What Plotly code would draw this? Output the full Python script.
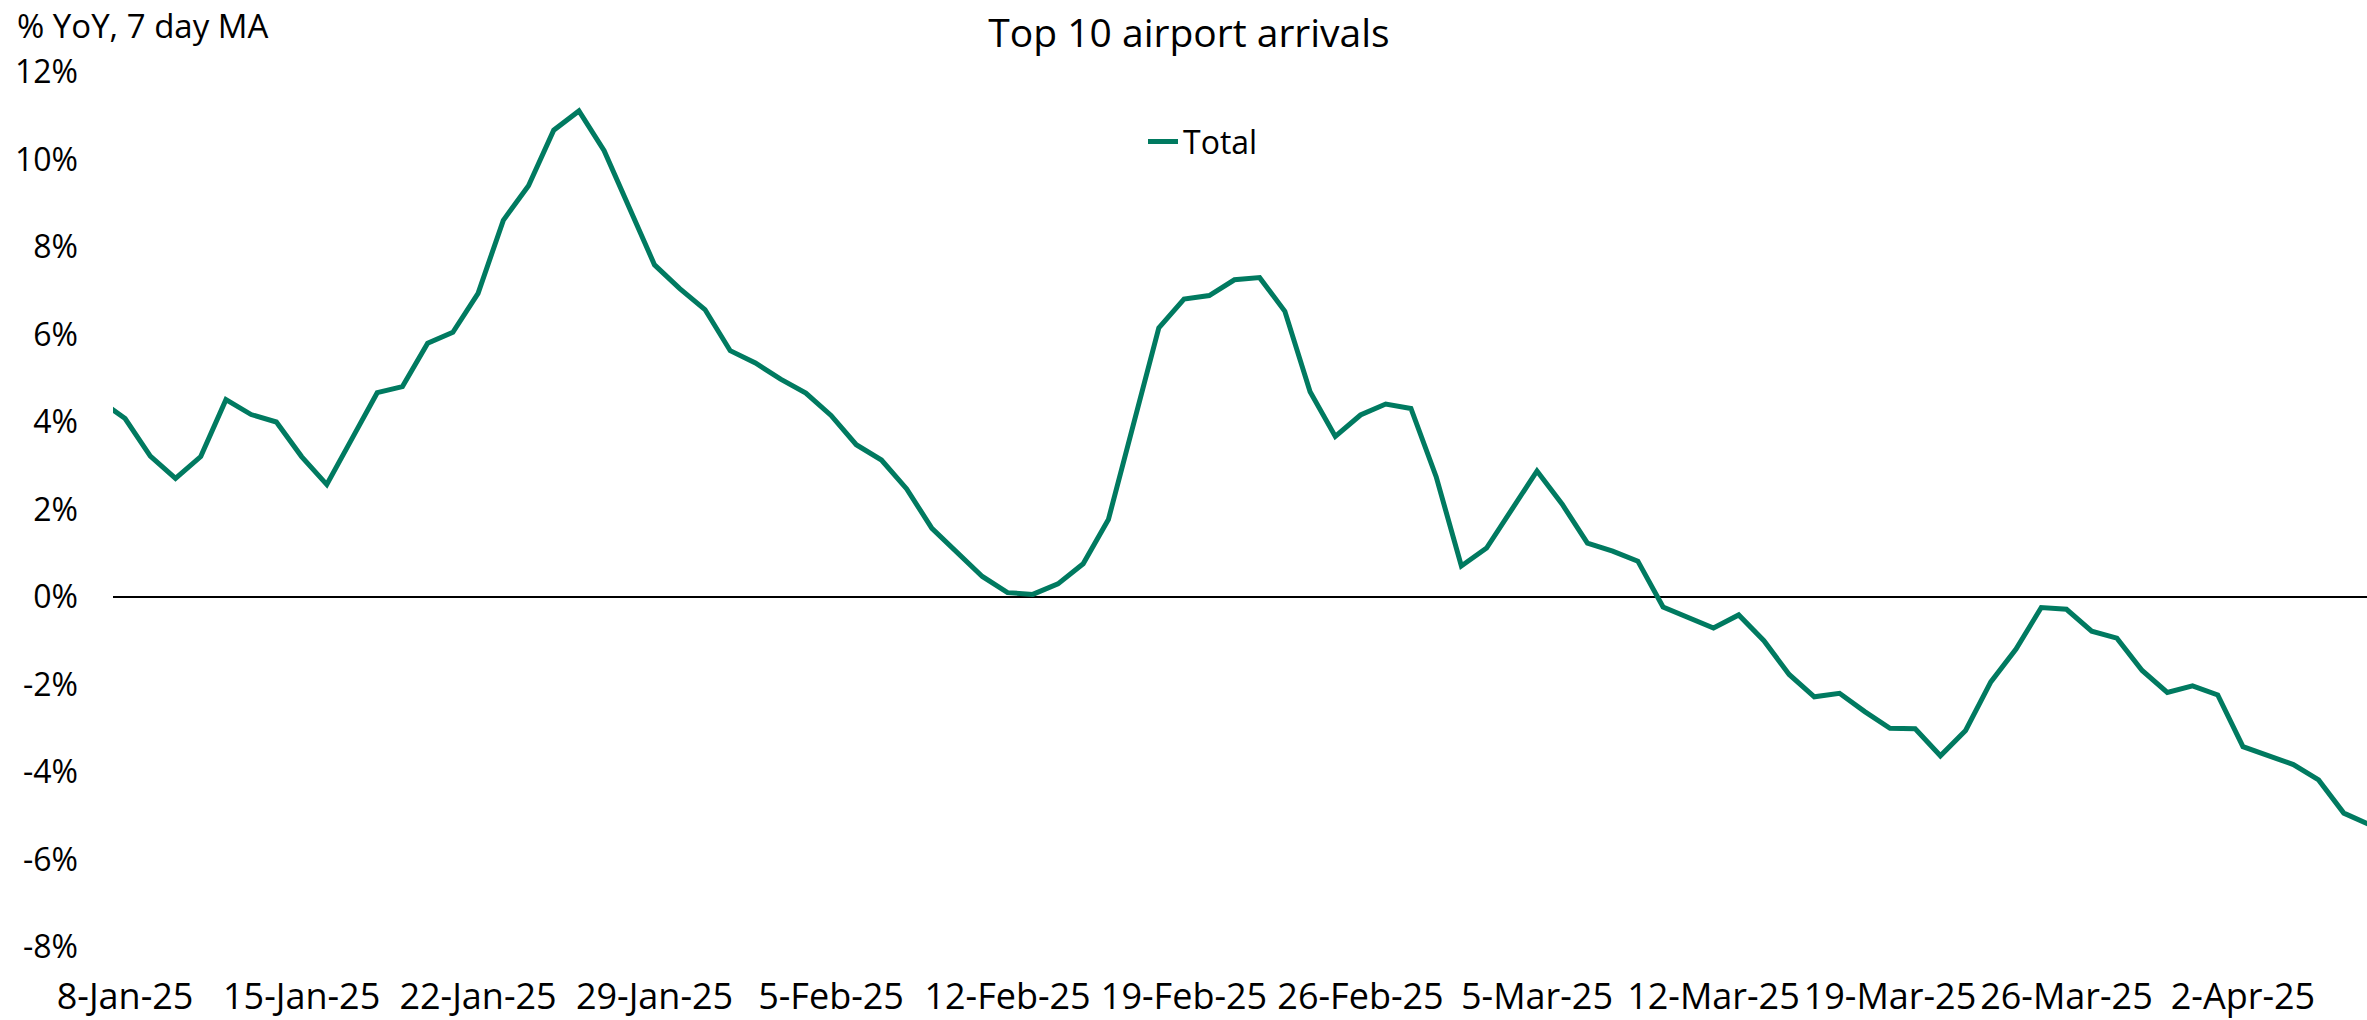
import datetime as dt
import plotly.graph_objects as go

# ---- data ----
start_date = dt.date(2025, 1, 7)
total_yoy = [
    4.49, 4.08, 3.22, 2.71, 3.21, 4.51, 4.17, 4.00, 3.21, 2.57,
    3.62, 4.67, 4.81, 5.80, 6.05, 6.94, 8.61, 9.40, 10.67, 11.11,
    10.20, 8.89, 7.59, 7.05, 6.57, 5.63, 5.35, 4.98, 4.66, 4.15,
    3.48, 3.13, 2.47, 1.57, 1.02, 0.47, 0.10, 0.06, 0.30, 0.76,
    1.77, 4.00, 6.15, 6.81, 6.89, 7.25, 7.30, 6.53, 4.69, 3.67,
    4.16, 4.41, 4.31, 2.75, 0.71, 1.12, 2.00, 2.88, 2.12, 1.23,
    1.05, 0.82, -0.23, -0.47, -0.71, -0.41, -1.00, -1.77, -2.28, -2.20,
    -2.62, -3.00, -3.01, -3.63, -3.05, -1.94, -1.19, -0.24, -0.28, -0.78,
    -0.94, -1.68, -2.18, -2.03, -2.24, -3.42, -3.64, -3.83, -4.18, -4.94,
    -5.20,
]
dates = [start_date + dt.timedelta(days=i) for i in range(len(total_yoy))]

x_tick_dates = ["2025-01-08", "2025-01-15", "2025-01-22", "2025-01-29",
                "2025-02-05", "2025-02-12", "2025-02-19", "2025-02-26",
                "2025-03-05", "2025-03-12", "2025-03-19", "2025-03-26",
                "2025-04-02"]
x_tick_labels = ["8-Jan-25", "15-Jan-25", "22-Jan-25", "29-Jan-25",
                 "5-Feb-25", "12-Feb-25", "19-Feb-25", "26-Feb-25",
                 "5-Mar-25", "12-Mar-25", "19-Mar-25", "26-Mar-25",
                 "2-Apr-25"]
y_tick_vals = [12, 10, 8, 6, 4, 2, 0, -2, -4, -6, -8]
y_tick_labels = ["12%", "10%", "8%", "6%", "4%", "2%", "0%",
                 "-2%", "-4%", "-6%", "-8%"]

LINE_COLOR = "#007A60"
FONT = "Open Sans"

W, H = 2367, 1020
L, R, T, B = 113, 0, 72, 70
plot_w = W - L - R
plot_h = H - T - B

fig = go.Figure()
fig.add_trace(go.Scatter(
    x=dates, y=total_yoy, mode="lines", name="Total",
    line=dict(color=LINE_COLOR, width=5),
))

fig.update_layout(
    width=W, height=H,
    margin=dict(l=L, r=R, t=T, b=B),
    paper_bgcolor="white", plot_bgcolor="white",
    font=dict(family=FONT, size=32, color="#000000"),
    title=dict(text="Top 10 airport arrivals", x=1189 / W, xref="container",
               xanchor="center", y=1 - 33 / H, yref="container",
               yanchor="middle", font=dict(size=39, family=FONT, color="#000")),
    showlegend=True,
    legend=dict(x=(1143 - L) / plot_w, xanchor="left",
                y=(H - B - 142) / plot_h, yanchor="middle",
                bgcolor="rgba(0,0,0,0)", font=dict(size=32, family=FONT),
                itemwidth=30),
    xaxis=dict(
        type="date",
        range=["2025-01-07 12:29", "2025-04-06 22:05"],
        tickvals=x_tick_dates, ticktext=x_tick_labels,
        showgrid=False, zeroline=False, showline=False, ticks="",
        ticklabelstandoff=25,
        tickfont=dict(size=36, family=FONT),
    ),
    yaxis=dict(
        range=[-8, 12],
        tickvals=y_tick_vals, ticktext=y_tick_labels,
        showgrid=False, showline=False, ticks="",
        zeroline=True, zerolinecolor="#000000", zerolinewidth=2,
        ticklabelstandoff=34,
        tickfont=dict(size=32, family=FONT),
    ),
    annotations=[dict(
        text="% YoY, 7 day MA", xref="paper", yref="paper",
        x=(15 - L) / plot_w, y=(H - B - 25) / plot_h,
        xanchor="left", yanchor="middle", showarrow=False,
        font=dict(size=33, family=FONT, color="#000"),
    )],
)

fig.write_html("out.html", config={"displayModeBar": False},
               post_script="document.body.style.margin='0';")
